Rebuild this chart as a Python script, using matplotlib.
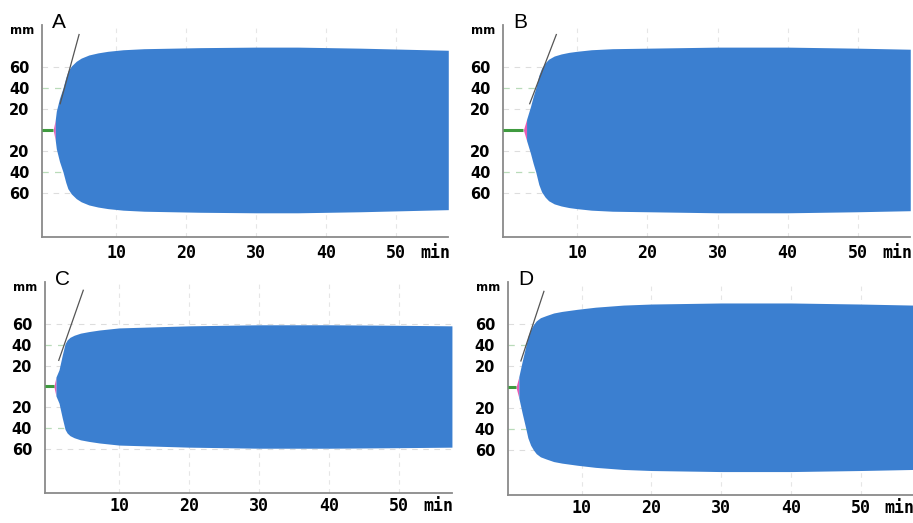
import numpy as np
import matplotlib.pyplot as plt

# panel letters
panels = ['A', 'B', 'C', 'D']

# clot amplitude (mm), time in min
t_a = [1.0, 1.3, 1.45, 1.9, 2.4, 2.8, 3.1, 3.6, 4.3, 5.0, 6.1, 7.4, 8.8, 11, 14, 18, 22, 30, 36, 45, 57.5]
amp_a = [0, 10, 18, 30, 40, 50, 56, 61, 65.5, 68.5, 71.5, 73.5, 75, 76.5, 77.5, 78, 78.5, 79, 79, 78, 76]

t_b = [2.3, 2.75, 3.3, 3.7, 4.06, 4.5, 4.9, 5.4, 5.9, 6.7, 7.7, 8.8, 9.9, 12, 15, 20, 30, 40, 50, 57.5]
amp_b = [0, 10, 22, 32, 40, 52, 59, 64, 67.5, 70.5, 72.5, 74, 75, 76.5, 77.5, 78, 79, 79, 78, 77]

t_c = [0.7, 1.0, 1.44, 1.9, 2.3, 2.6, 3.0, 3.6, 4.5, 5.7, 7.2, 10, 15, 20, 30, 40, 50, 57.5]
amp_c = [0, 9, 16, 30, 41, 44.5, 47, 49, 51, 52.5, 54, 56, 57, 58, 59, 59, 58.5, 58]

t_d = [0.6, 1.0, 1.5, 2.0, 2.3, 2.7, 3.1, 3.5, 4.1, 4.9, 6.0, 7.2, 9.4, 12, 16, 20, 30, 40, 50, 57.5]
amp_d = [0, 10, 25, 39, 48, 55, 59.5, 63, 66, 68, 70.5, 72, 74, 76, 78, 79, 80, 80, 79, 78]

# alpha angle tangent (start/end)
alpha_t = [[2.0, 4.7], [3.2, 7.0], [1.4, 4.9], [1.3, 4.6]]
alpha_amp = [[25, 91], [25, 91], [25, 92], [25, 91]]

xticks = [10, 20, 30, 40, 50]
xtick_labels = ['10', '20', '30', '40', '50']
yticks = [-60, -40, -20, 20, 40, 60]
ytick_labels = ['60', '40', '20', '20', '40', '60']

times = [t_a, t_b, t_c, t_d]
amps = [amp_a, amp_b, amp_c, amp_d]

# axes boxes in figure fraction (left, bottom, width, height)
boxes = [(0.046, 0.547, 0.445, 0.405),
         (0.551, 0.547, 0.446, 0.405),
         (0.049, 0.057, 0.446, 0.404),
         (0.556, 0.054, 0.444, 0.407)]

blue = '#3b7fd0'
pink = '#e85cb4'
green = '#3f9a3f'

fig = plt.figure(figsize=(9.13, 5.23), dpi=100)
fig.patch.set_facecolor('white')

for k in range(4):
    ax = fig.add_axes(boxes[k])
    t = np.array(times[k])
    a = np.array(amps[k])
    x0, x1 = -0.6, 57.5
    ax.set_xlim(x0, x1)
    ax.set_ylim(-102, 100)

    # grid
    for xv in xticks:
        ax.axvline(xv, color='#e6e6e6', lw=0.8, ls=(0, (4, 4)), zorder=0)
    for yv in [-60, -20, 20, 60]:
        ax.axhline(yv, color='#dddddd', lw=0.8, ls=(0, (5, 5)), zorder=0)
    for yv in [-40, 40]:
        ax.axhline(yv, color='#b9dbb9', lw=0.9, ls=(0, (5, 5)), zorder=0)

    # clotting time (flat line)
    ax.plot([x0, t[0]], [0, 0], color=green, lw=2.2, zorder=3, solid_capstyle='butt')
    # clot formation start (pink)
    ax.fill_between(t[:2], -a[:2], a[:2], color=pink, lw=0, zorder=2)
    # main trace
    ax.fill_between(t[1:], -a[1:], a[1:], color=blue, lw=0, zorder=2)
    # alpha tangent
    ax.plot(alpha_t[k], alpha_amp[k], color='#555555', lw=0.9, zorder=4)

    ax.set_xticks(xticks + [55.6])
    ax.set_xticklabels(xtick_labels + ['min'], fontsize=12, fontweight='bold',
                       family='DejaVu Sans Mono')
    ax.set_yticks(yticks)
    ax.set_yticklabels(ytick_labels, fontsize=10.5, fontweight='bold')
    ax.tick_params(length=0, pad=9)
    ax.tick_params(axis='x', pad=5 if k < 2 else 3)
    for s in ['top', 'right']:
        ax.spines[s].set_visible(False)
    for s in ['left', 'bottom']:
        ax.spines[s].set_color('#8a8a8a')
        ax.spines[s].set_linewidth(1.3)

    ax.text(-0.048, 0.975, 'mm', transform=ax.transAxes, fontsize=8.5,
            fontweight='bold', ha='center', va='center')
    ax.text(0.025, 1.01, panels[k], transform=ax.transAxes, fontsize=15,
            ha='left', va='center', family='Liberation Sans')

fig.savefig('out.png', dpi=100)
